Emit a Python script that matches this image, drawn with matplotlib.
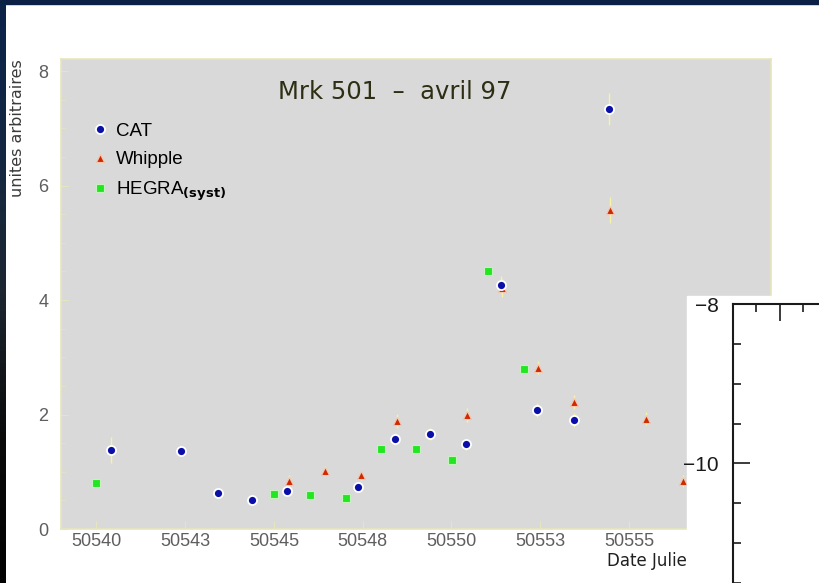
import numpy as np
import matplotlib
matplotlib.use("Agg")
import matplotlib.pyplot as plt
from matplotlib.patches import Rectangle
from matplotlib.lines import Line2D
from matplotlib.colors import LinearSegmentedColormap

# data
cat_x = [50540.41, 50542.39, 50543.41, 50544.39, 50545.36, 50547.37, 50548.40,
         50549.40, 50550.40, 50551.40, 50552.41, 50553.44, 50554.44]
cat_y = [1.38, 1.37, 0.63, 0.51, 0.67, 0.73, 1.57, 1.66, 1.48, 4.27, 2.08, 1.91, 7.33]
cat_err = [0.22, 0.08, 0.08, 0.06, 0.08, 0.08, 0.1, 0.1, 0.1, 0.15, 0.12, 0.12, 0.28]

whip_x = [50545.42, 50546.44, 50547.44, 50548.47, 50550.43, 50551.42, 50552.45,
          50553.46, 50554.47, 50555.49, 50556.51]
whip_y = [0.84, 1.02, 0.94, 1.89, 1.99, 4.21, 2.82, 2.22, 5.57, 1.93, 0.84]
whip_err = [0.1, 0.08, 0.08, 0.12, 0.12, 0.15, 0.12, 0.12, 0.23, 0.12, 0.1]

hegra_x = [50540.0, 50545.0, 50546.02, 50547.03, 50548.02, 50549.01, 50550.02,
           50551.04, 50552.03]
hegra_y = [0.81, 0.61, 0.60, 0.55, 1.40, 1.40, 1.21, 4.51, 2.80]

xtick_pos = [50540, 50542.5, 50545, 50547.5, 50550, 50552.5, 50555]
xtick_lab = ["50540", "50543", "50545", "50548", "50550", "50553", "50555"]
ytick_pos = [0, 2, 4, 6, 8]

W, H = 820, 583
fig = plt.figure(figsize=(8.2, 5.83), dpi=100, facecolor="white")

# slide background bits
fig.add_artist(Rectangle((0, 1 - 4 / H), 1, 4 / H, transform=fig.transFigure,
                         color="#0c1f45", zorder=-1))
strip = fig.add_axes([0, 0, 6 / W, 1 - 4 / H])
cm = LinearSegmentedColormap.from_list("slide", ["#0c2348", "#142843", "#1d2630", "#0a0a0a", "#020202"])
strip.imshow(np.linspace(0, 1, 100).reshape(-1, 1), aspect="auto", cmap=cm)
strip.set_axis_off()

# main plot
ax = fig.add_axes([61 / W, 54 / H, 710 / W, 470 / H])
ax.set_facecolor("#d9d9d9")
for s in ax.spines.values():
    s.set_color("#e6e6bc")
    s.set_linewidth(1.2)

ax.errorbar(cat_x, cat_y, yerr=cat_err, fmt="none", ecolor="#f4f4a8", elinewidth=1, zorder=2)
ax.errorbar(whip_x, whip_y, yerr=whip_err, fmt="none", ecolor="#f4f4a8", elinewidth=1, zorder=2)

ax.plot(hegra_x, hegra_y, ls="none", marker="s", ms=6, color="#22e622", mec="#c8f0c0", mew=0.8, zorder=3)
ax.plot(whip_x, whip_y, ls="none", marker="^", ms=6, color="#d02800", mec="#f2c8b0", mew=0.8, zorder=4)
ax.plot(cat_x, cat_y, ls="none", marker="o", ms=6.5, color="#0a0fa8", mec="white", mew=1.3, zorder=5)

ax.set_xlim(50539, 50559)
ax.set_ylim(0, 8.21)
ax.set_xticks(xtick_pos)
ax.set_xticklabels(xtick_lab)
ax.set_yticks(ytick_pos)
ax.set_yticks(np.arange(0, 8.5, 0.5), minor=True)
ax.tick_params(axis="both", which="both", direction="in", color="#e6e6bc",
               labelcolor="#5e5e5e", labelsize=13)
ax.tick_params(axis="x", which="major", length=6, pad=3)
ax.tick_params(axis="y", which="major", length=5, pad=9)
ax.tick_params(axis="y", which="minor", length=3)
for lab in ax.get_xticklabels() + ax.get_yticklabels():
    lab.set_family("Liberation Sans")

ax.text(0.47, 0.93, "Mrk 501  \u2013  avril 97", transform=ax.transAxes,
        ha="center", va="center", fontsize=17.5, color="#2e2e14")

handles = [
    Line2D([], [], ls="none", marker="o", ms=6.5, color="#0a0fa8", mec="white", mew=1.3),
    Line2D([], [], ls="none", marker="^", ms=6, color="#d02800", mec="#f2c8b0", mew=0.8),
    Line2D([], [], ls="none", marker="s", ms=6, color="#22e622", mec="#c8f0c0", mew=0.8),
]
labels = ["CAT", "Whipple", r"HEGRA$_{\mathbf{(syst)}}$"]
ax.legend(handles, labels, loc="upper left", bbox_to_anchor=(0.028, 0.884),
          frameon=False, borderpad=0, handlelength=1, handletextpad=0.35,
          labelspacing=0.6, prop={"family": "Liberation Sans", "size": 13.5})

fig.text(18 / W, 1 - 128 / H, "unites arbitraires", rotation=90, ha="center",
         va="center", fontsize=11.5, color="#3a3a3a")
fig.text(607 / W, 1 - 561 / H, "Date Julien", ha="left", va="center",
         fontsize=12, color="#202020", zorder=0.5)

# overlapping panel from the next slide element
fig.add_artist(Rectangle((687 / W, 0), (W - 687) / W, (H - 296) / H,
                         transform=fig.transFigure, color="white", zorder=1))
ax2 = fig.add_axes([733 / W, 0, 0.2, (H - 304) / H])
ax2.set_zorder(2)
ax2.set_facecolor("none")
ax2.set_ylim(-8 - 279 / 83, -8)
ax2.set_xlim(0, 164 / 23.5)
for side in ["right", "bottom"]:
    ax2.spines[side].set_visible(False)
for side in ["left", "top"]:
    ax2.spines[side].set_color("#1a1a1a")
    ax2.spines[side].set_linewidth(1.5)
ax2.set_yticks([-8, -10])
ax2.set_yticklabels(["\u22128", "\u221210"])
ax2.set_yticks(np.arange(-11.5, -7.9, 0.5), minor=True)
ax2.xaxis.tick_top()
ax2.set_xticks([2, 6])
ax2.set_xticks([1, 3, 4, 5], minor=True)
ax2.set_xticklabels([])
ax2.tick_params(axis="both", which="major", direction="in", length=12, width=1.2,
                color="#1a1a1a", labelsize=15, labelcolor="#1a1a1a", pad=10)
ax2.tick_params(axis="both", which="minor", direction="in", length=6, width=1.2,
                color="#1a1a1a")
for lab in ax2.get_yticklabels():
    lab.set_family("Liberation Sans")

fig.savefig("out.png", dpi=100, facecolor="white")
